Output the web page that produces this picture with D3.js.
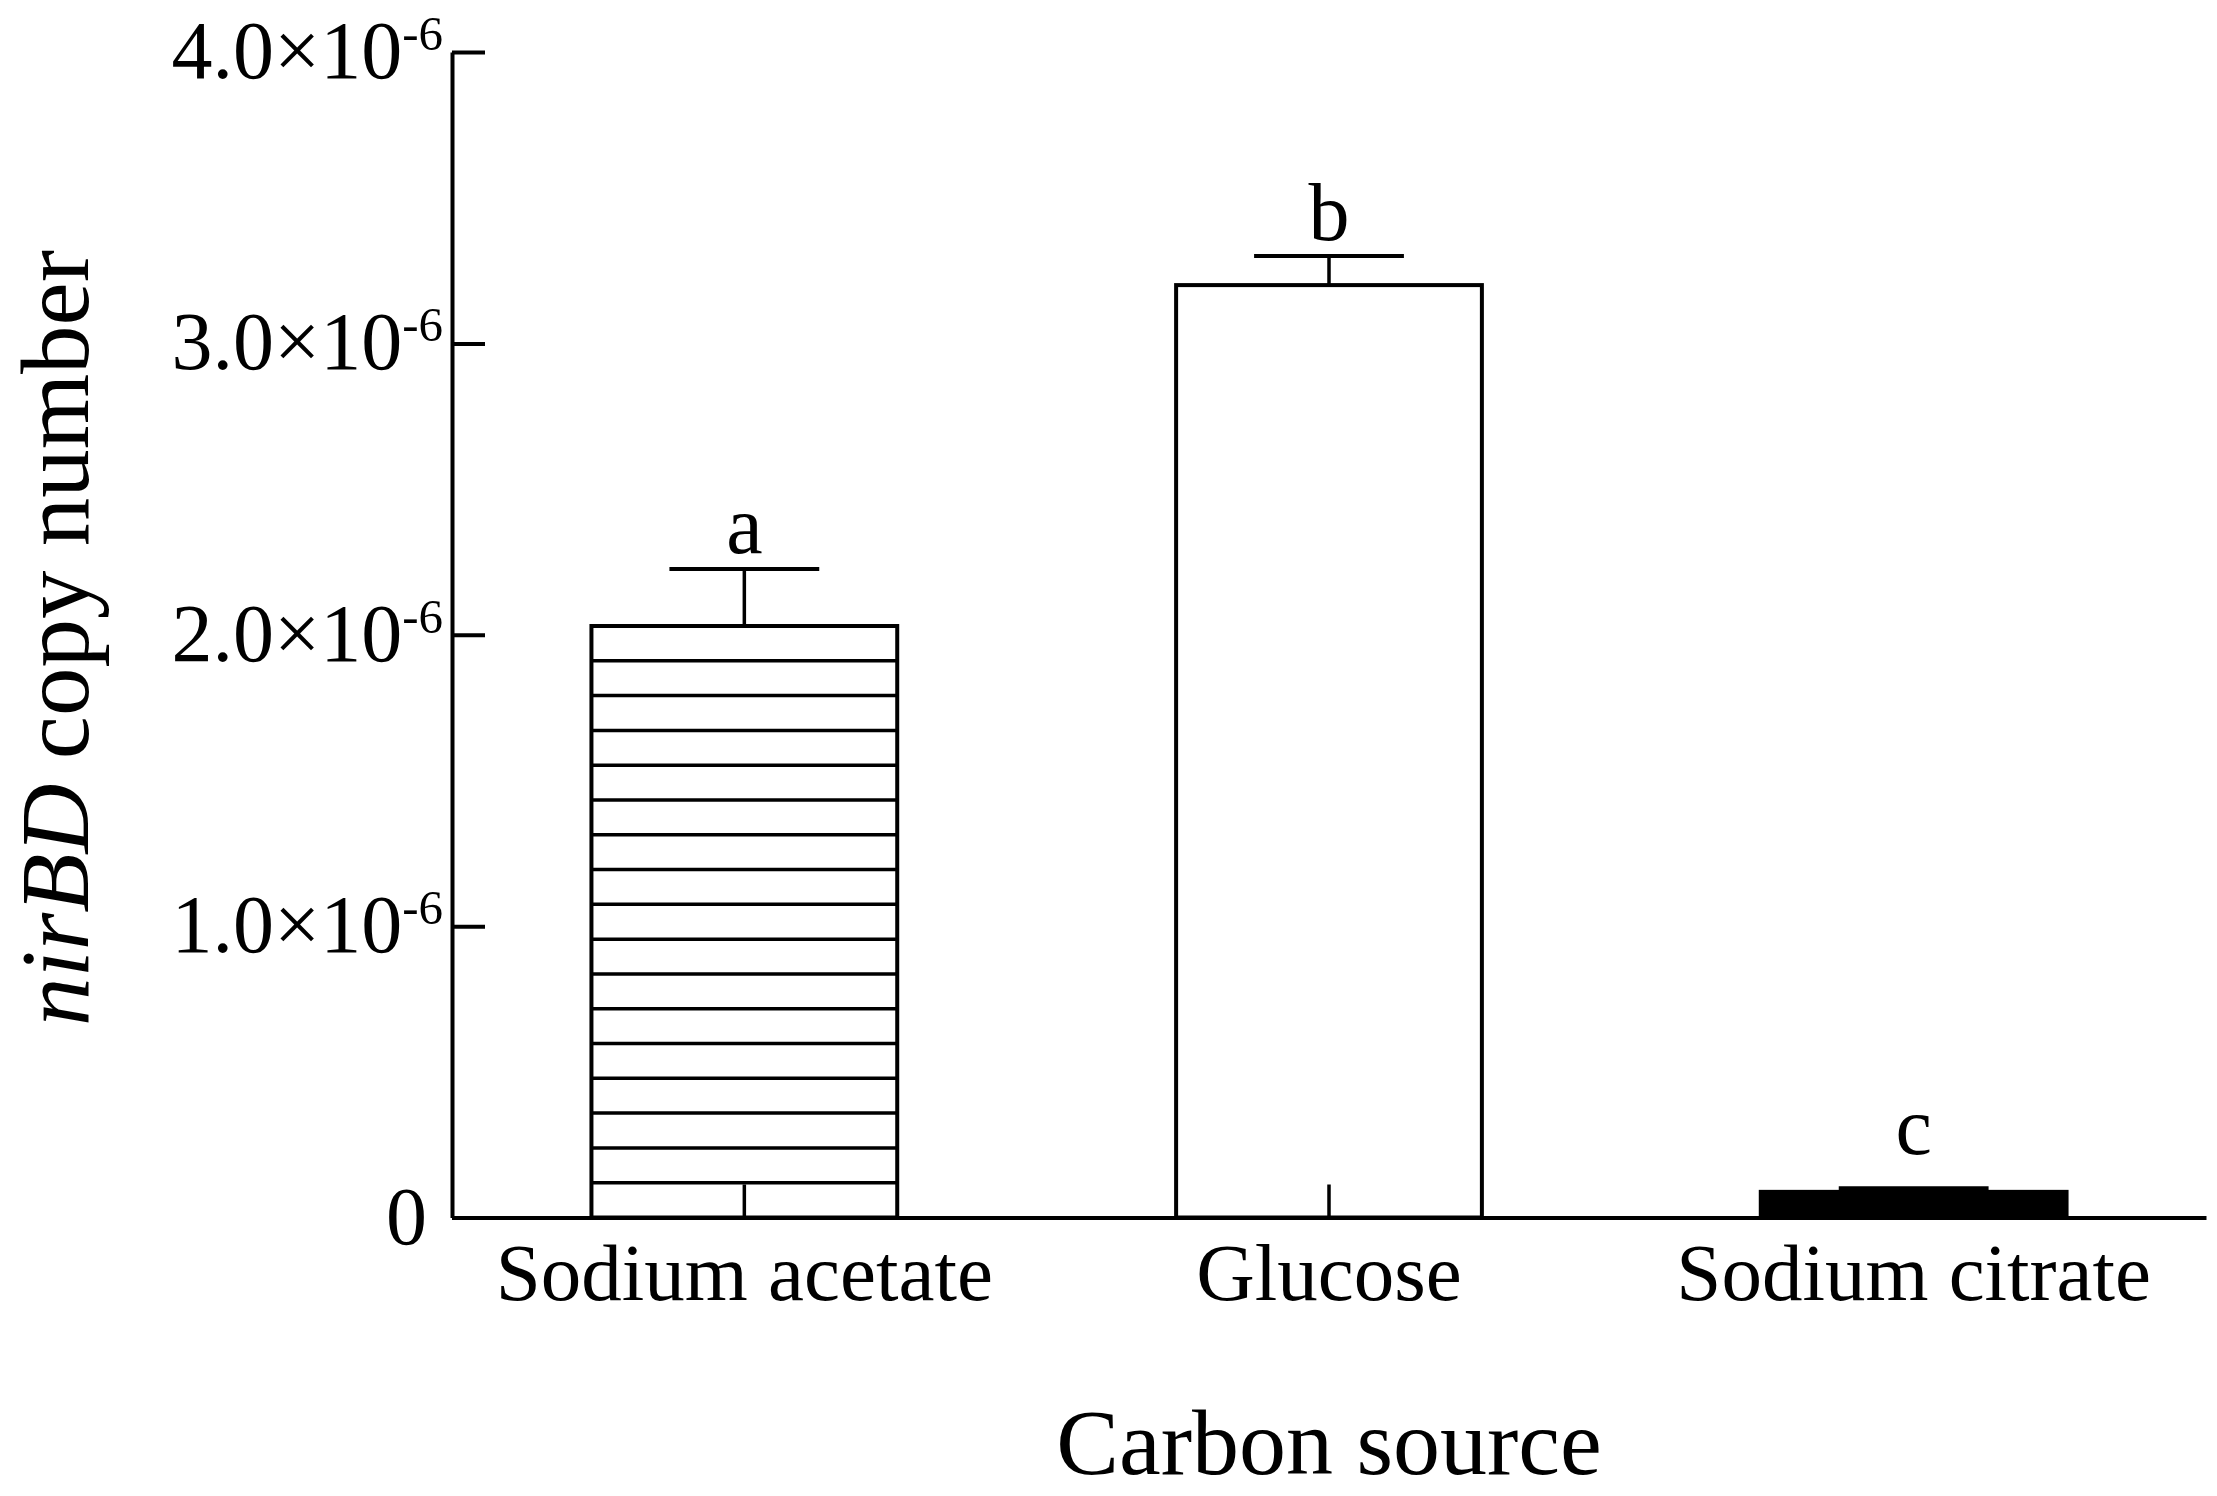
<!DOCTYPE html>
<html>
<head>
<meta charset="utf-8">
<script src="https://cdn.jsdelivr.net/npm/d3@7/dist/d3.min.js"></script>
<style>
  html, body { margin: 0; padding: 0; background: #fff; }
  svg { display: block; }
  text { font-family: "Liberation Serif", "Times New Roman", serif; fill: #000; }
</style>
</head>
<body>
<svg id="chart" width="2217" height="1496"></svg>
<script>
// ---- data ----
const categories = ["Sodium acetate", "Glucose", "Sodium citrate"];
const means = [2.03e-6, 3.20e-6, 0.088e-6];
const errTops = [2.226e-6, 3.30e-6, 0.10e-6];
const letters = ["a", "b", "c"];
const fills = ["hatch", "white", "black"];
const yTicks = [0, 1e-6, 2e-6, 3e-6, 4e-6];
const yTickMantissa = ["0", "1.0", "2.0", "3.0", "4.0"];
const yTickExponent = ["", "-6", "-6", "-6", "-6"];
const xTitle = "Carbon source";
const yTitleItalic = "nirBD";
const yTitleRest = " copy number";

(function () {
// ---- layout ----
const svg = d3.select("#chart");
const mLeft = 452, mRight = 2206, mTop = 52, mBottom = 1217.5;

const x = d3.scaleBand().domain(categories).range([mLeft, mRight])
  .paddingInner(0.477).paddingOuter(0.2385);
const y = d3.scaleLinear().domain([0, 4e-6]).range([mBottom, mTop]);

const AX_W = 4;

// bars
const g = svg.append("g");
categories.forEach((c, i) => {
  const x0 = x(c), w = x.bandwidth(), cx = x0 + w / 2;
  const yt = y(means[i]), h = y(0) - yt;
  g.append("rect")
    .attr("x", x0).attr("y", yt).attr("width", w).attr("height", h)
    .attr("fill", fills[i] === "black" ? "#000" : "#fff")
    .attr("stroke", "#000").attr("stroke-width", 4);
  if (fills[i] !== "black") {
    g.append("line").attr("x1", cx).attr("x2", cx)
      .attr("y1", y(0)).attr("y2", y(0) - 33)
      .attr("stroke", "#000").attr("stroke-width", 3.5);
  }
  if (fills[i] === "hatch") {
    const n = Math.round(h / 35), sp = h / n;
    for (let k = 1; k < n; k++) {
      g.append("line").attr("x1", x0).attr("x2", x0 + w)
        .attr("y1", y(0) - k * sp).attr("y2", y(0) - k * sp)
        .attr("stroke", "#000").attr("stroke-width", 3.5);
    }
  }
  const ye = y(errTops[i]);
  const capHalf = w * 0.245;
  g.append("line").attr("x1", cx).attr("x2", cx).attr("y1", yt).attr("y2", ye)
    .attr("stroke", "#000").attr("stroke-width", 3.5);
  g.append("line").attr("x1", cx - capHalf).attr("x2", cx + capHalf).attr("y1", ye).attr("y2", ye)
    .attr("stroke", "#000").attr("stroke-width", 4);
  g.append("text").attr("x", cx)
    .attr("y", Math.min(ye - 16, y(0) - 64))
    .attr("text-anchor", "middle").attr("font-size", 82).text(letters[i]);
});

// y axis
const yAxis = svg.append("g").attr("transform", `translate(${mLeft},0)`)
  .call(d3.axisLeft(y).tickValues(yTicks).tickSizeInner(-33).tickSizeOuter(0).tickFormat(""));
yAxis.select(".domain").attr("stroke", "#000").attr("stroke-width", AX_W);
yAxis.selectAll(".tick line").attr("stroke", "#000").attr("stroke-width", AX_W);
yAxis.selectAll(".tick text").remove();
yTicks.forEach((v, i) => {
  const t = svg.append("text")
    .attr("x", mLeft - (yTickExponent[i] ? 9 : 25))
    .attr("y", y(v) + 26)
    .attr("text-anchor", "end").attr("font-size", 82);
  if (yTickExponent[i]) {
    t.append("tspan").text(yTickMantissa[i] + "\u00D710");
    t.append("tspan").attr("font-size", 49).attr("dy", -28).text(yTickExponent[i]);
  } else {
    t.text(yTickMantissa[i]);
  }
});

// x axis
const xAxis = svg.append("g").attr("transform", `translate(0,${mBottom})`)
  .call(d3.axisBottom(x).tickSize(0).tickFormat(""));
xAxis.select(".domain").attr("stroke", "#000").attr("stroke-width", AX_W);
xAxis.selectAll(".tick text").remove();
categories.forEach(c => {
  svg.append("text").attr("x", x(c) + x.bandwidth() / 2).attr("y", 1300)
    .attr("text-anchor", "middle").attr("font-size", 81).text(c);
});

// axis titles
svg.append("text").attr("x", (mLeft + mRight) / 2).attr("y", 1474)
  .attr("text-anchor", "middle").attr("font-size", 94).text(xTitle);

const ytt = svg.append("text")
  .attr("transform", `translate(88,638) rotate(-90)`)
  .attr("text-anchor", "middle").attr("font-size", 97);
ytt.append("tspan").attr("font-style", "italic").text(yTitleItalic);
ytt.append("tspan").text(yTitleRest);
})();
</script>
</body>
</html>
